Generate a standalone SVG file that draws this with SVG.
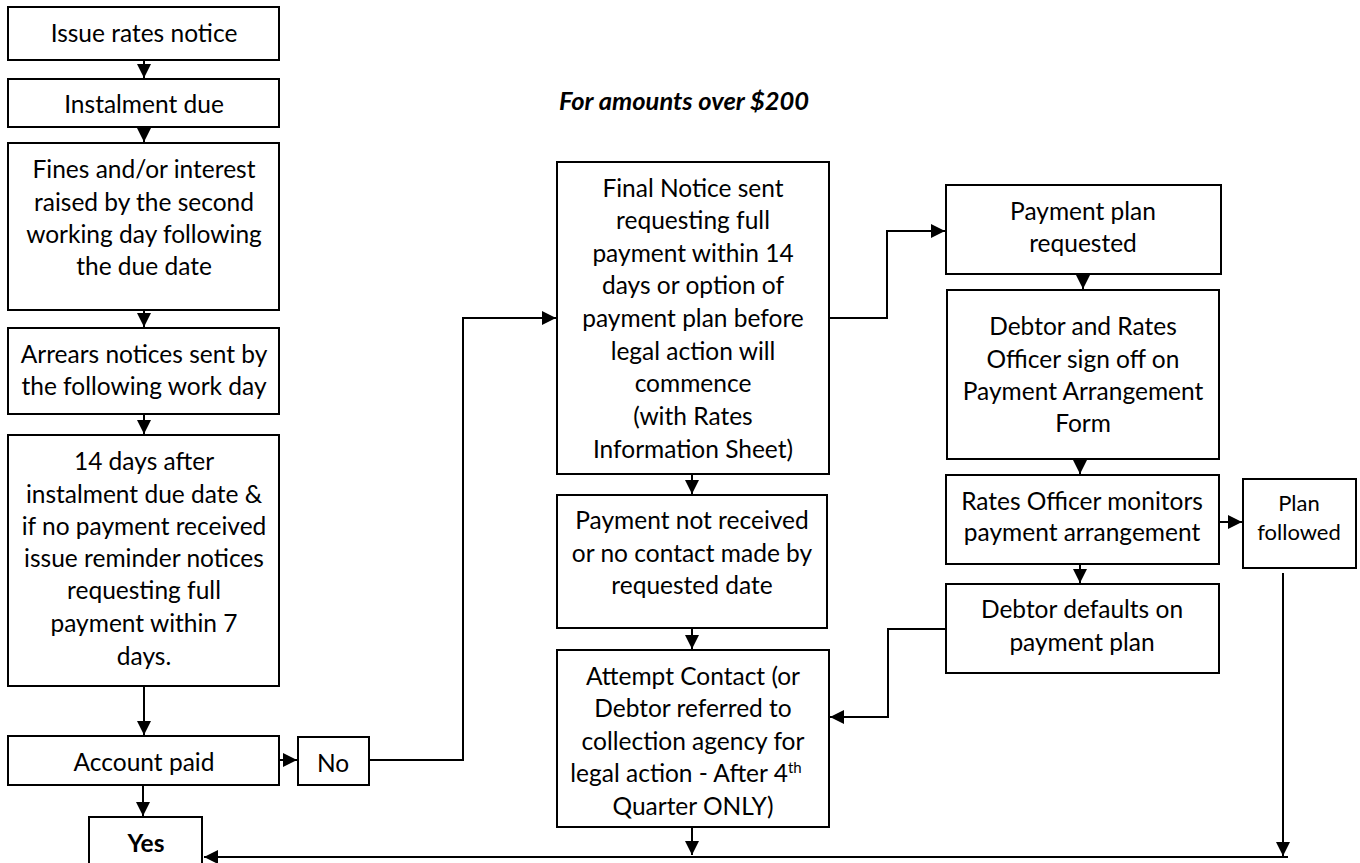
<svg xmlns="http://www.w3.org/2000/svg" width="1360" height="863" viewBox="0 0 1360 863">
<style>
.box{fill:#fff;stroke:#000;stroke-width:2}
.t{font-family:Lato,"Liberation Sans",sans-serif;font-size:24.5px;fill:#000;text-anchor:middle}
.s{font-size:22px}
.b{font-weight:bold}
.hd{font-family:Lato,"Liberation Sans",sans-serif;font-size:25.5px;font-weight:bold;font-style:italic;text-anchor:middle}
.c{fill:none;stroke:#000;stroke-width:2}
</style>
<defs>
<marker id="ah" viewBox="0 0 10 10" refX="10" refY="5" markerUnits="userSpaceOnUse" markerWidth="14" markerHeight="15" orient="auto">
<path d="M0,0 L10,5 L0,10 z" fill="#000"/>
</marker>
</defs>
<rect width="1360" height="863" fill="#fff"/>
<text class="hd" x="684" y="110">For amounts over $200</text>
<g id="connectors">
<path class="c" d="M144,60 V78" marker-end="url(#ah)"/>
<path class="c" d="M144,127 V142" marker-end="url(#ah)"/>
<path class="c" d="M144,310 V327" marker-end="url(#ah)"/>
<path class="c" d="M144,414 V434" marker-end="url(#ah)"/>
<path class="c" d="M144,686 V735" marker-end="url(#ah)"/>
<path class="c" d="M143,785 V816" marker-end="url(#ah)"/>
<path class="c" d="M279,760 H297" marker-end="url(#ah)"/>
<path class="c" d="M369,760 H463 V318 H556" marker-end="url(#ah)"/>
<path class="c" d="M829,318 H887 V231 H945" marker-end="url(#ah)"/>
<path class="c" d="M692,474 V494" marker-end="url(#ah)"/>
<path class="c" d="M692,628 V649" marker-end="url(#ah)"/>
<path class="c" d="M692,827 V855" marker-end="url(#ah)"/>
<path class="c" d="M1083,274 V289" marker-end="url(#ah)"/>
<path class="c" d="M1080,459 V474" marker-end="url(#ah)"/>
<path class="c" d="M1080,564 V583" marker-end="url(#ah)"/>
<path class="c" d="M1219,522 H1242" marker-end="url(#ah)"/>
<path class="c" d="M946,629 H888 V717 H830" marker-end="url(#ah)"/>
<path class="c" d="M1283,573 V856" marker-end="url(#ah)"/>
<path class="c" d="M1288,857 H204" marker-end="url(#ah)"/>
</g>
<g id="n1"><rect class="box" x="8" y="7" width="271" height="53"/><text class="t" x="144" y="42">Issue rates notice</text></g>
<g id="n2"><rect class="box" x="8" y="79" width="271" height="48"/><text class="t" x="144" y="113">Instalment due</text></g>
<g id="n3"><rect class="box" x="8" y="143" width="271" height="167"/><text class="t" x="144"><tspan x="144" y="178">Fines and/or interest</tspan><tspan x="144" y="211">raised by the second</tspan><tspan x="144" y="243">working day following</tspan><tspan x="144" y="275">the due date</tspan></text></g>
<g id="n4"><rect class="box" x="8" y="328" width="271" height="86"/><text class="t"><tspan x="144" y="363">Arrears notices sent by</tspan><tspan x="144" y="395">the following work day</tspan></text></g>
<g id="n5"><rect class="box" x="8" y="435" width="271" height="251"/><text class="t"><tspan x="144" y="470">14 days after</tspan><tspan x="144" y="503">instalment due date &amp;</tspan><tspan x="144" y="535">if no payment received</tspan><tspan x="144" y="567">issue reminder notices</tspan><tspan x="144" y="599">requesting full</tspan><tspan x="144" y="632">payment within 7</tspan><tspan x="144" y="665">days.</tspan></text></g>
<g id="n6"><rect class="box" x="8" y="736" width="271" height="49"/><text class="t" x="144" y="771">Account paid</text></g>
<g id="n7"><rect class="box" x="298" y="737" width="71" height="48"/><text class="t" x="333" y="772">No</text></g>
<g id="n8"><rect class="box" x="89" y="817" width="113" height="60"/><text class="t b" x="146" y="852">Yes</text></g>
<g id="n9"><rect class="box" x="557" y="162" width="272" height="312"/><text class="t"><tspan x="693" y="197">Final Notice sent</tspan><tspan x="693" y="229">requesting full</tspan><tspan x="693" y="262">payment within 14</tspan><tspan x="693" y="294">days or option of</tspan><tspan x="693" y="327">payment plan before</tspan><tspan x="693" y="360">legal action will</tspan><tspan x="693" y="392">commence</tspan><tspan x="693" y="425">(with Rates</tspan><tspan x="693" y="458">Information Sheet)</tspan></text></g>
<g id="n10"><rect class="box" x="557" y="495" width="270" height="133"/><text class="t"><tspan x="692" y="529">Payment not received</tspan><tspan x="692" y="562">or no contact made by</tspan><tspan x="692" y="594">requested date</tspan></text></g>
<g id="n11"><rect class="box" x="557" y="650" width="272" height="177"/><text class="t"><tspan x="693" y="685">Attempt Contact (or</tspan><tspan x="693" y="717">Debtor referred to</tspan><tspan x="693" y="750">collection agency for</tspan><tspan x="686" y="782">legal action - After 4<tspan font-size="15" dy="-9">th</tspan></tspan><tspan x="693" y="815">Quarter ONLY)</tspan></text></g>
<g id="n12"><rect class="box" x="946" y="185" width="275" height="89"/><text class="t"><tspan x="1083" y="220">Payment plan</tspan><tspan x="1083" y="252">requested</tspan></text></g>
<g id="n13"><rect class="box" x="947" y="290" width="272" height="169"/><text class="t"><tspan x="1083" y="335">Debtor and Rates</tspan><tspan x="1083" y="368">Officer sign off on</tspan><tspan x="1083" y="400">Payment Arrangement</tspan><tspan x="1083" y="432">Form</tspan></text></g>
<g id="n14"><rect class="box" x="946" y="475" width="273" height="89"/><text class="t"><tspan x="1082" y="510">Rates Officer monitors</tspan><tspan x="1082" y="541">payment arrangement</tspan></text></g>
<g id="n15"><rect class="box" x="1243" y="479" width="113" height="89"/><text class="t s"><tspan x="1299" y="511">Plan</tspan><tspan x="1299" y="540">followed</tspan></text></g>
<g id="n16"><rect class="box" x="946" y="584" width="273" height="89"/><text class="t"><tspan x="1082" y="618">Debtor defaults on</tspan><tspan x="1082" y="651">payment plan</tspan></text></g>
</svg>
